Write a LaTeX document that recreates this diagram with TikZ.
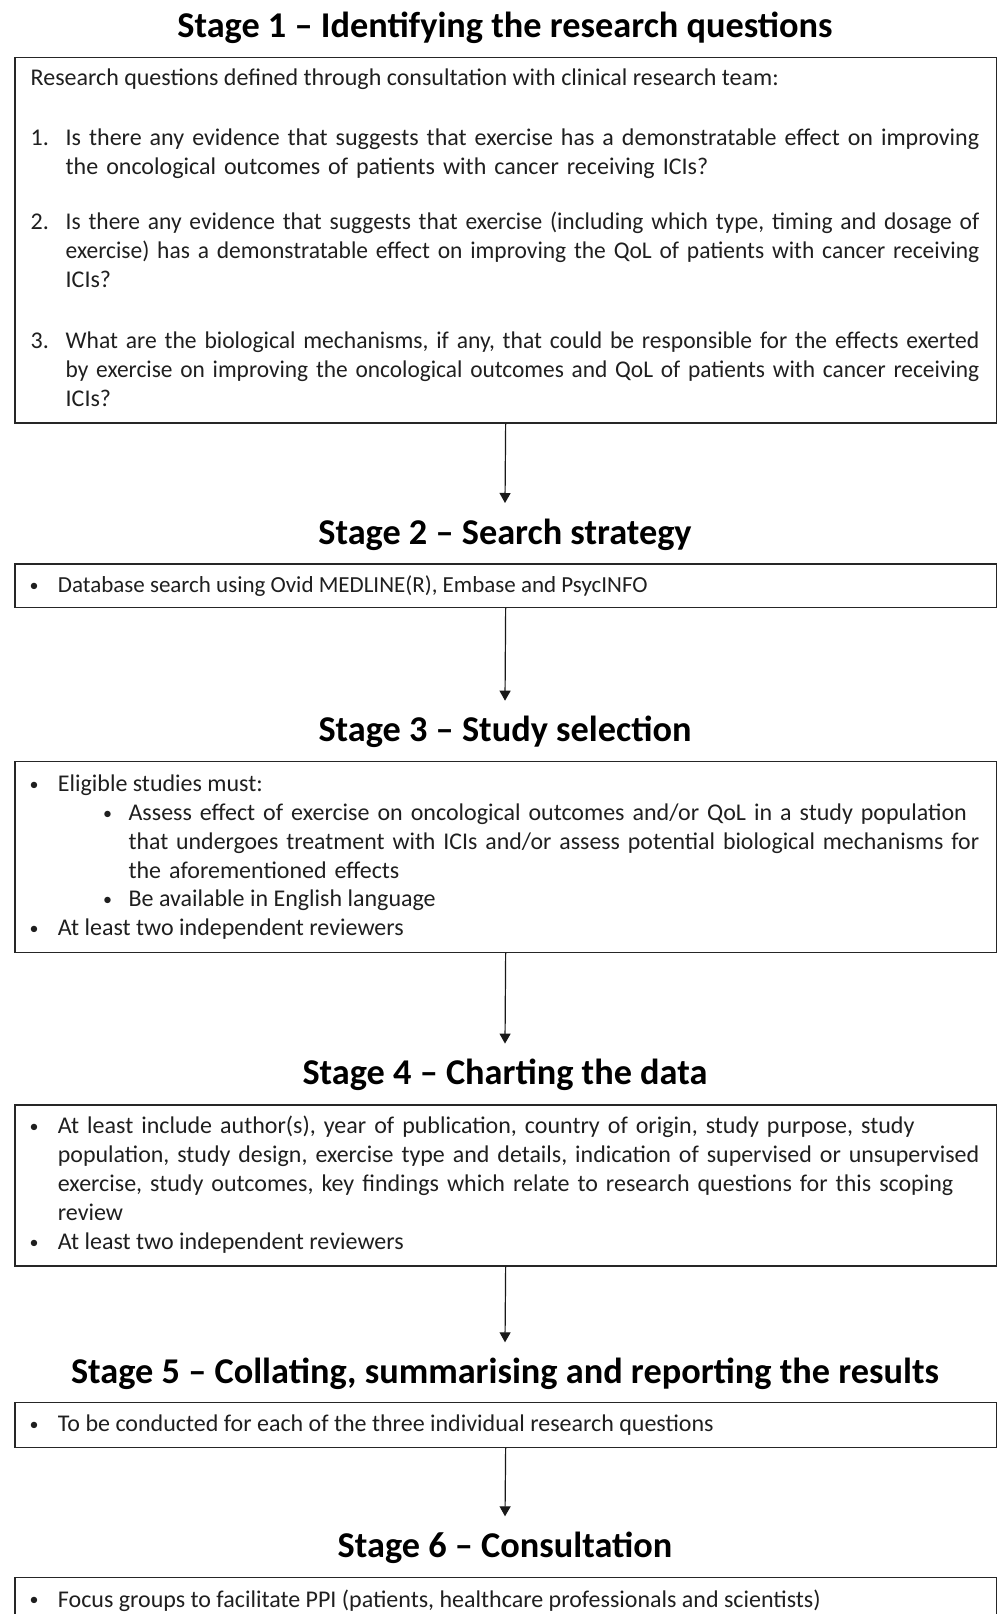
\documentclass[tikz,border=0pt]{standalone}
\usepackage{fontspec}
\usepackage{graphicx}
\setmainfont{Carlito}
\usetikzlibrary{arrows.meta}
\newsavebox{\jlinebox}
\newcommand{\jline}[1]{\sbox{\jlinebox}{#1}\ifdim\wd\jlinebox>\linewidth\resizebox{\linewidth}{\ht\jlinebox}{\usebox{\jlinebox}}\else\makebox[\linewidth][s]{#1}\fi}
\newcommand{\bul}{\raisebox{1.2pt}{\fontsize{18}{18}\selectfont •}}
\begin{document}
\begin{tikzpicture}[x=1pt,y=-1pt,
  boxframe/.style={draw=black!85, line width=1.5pt, inner sep=0pt, anchor=north west, minimum width=981.2pt},
  stagetitle/.style={font=\fontsize{36.3}{42}\bfseries\selectfont, inner sep=0pt, anchor=base, text height=23pt, text depth=0pt, outer ysep=18pt},
  body/.style={font=\fontsize{24}{28.8}\selectfont, inner sep=0pt, anchor=base west, text=black!88},
  bodyb/.style={body, font=\fontsize{24}{29}\selectfont},
  flow/.style={line width=1.2pt, draw=black!90, -{Triangle[width=11pt,length=10pt]}}
]
\useasboundingbox (0,0) rectangle (997,1614);

% ---------- Stage 1 ----------
\node[stagetitle] (t1) at (505,37.3) {Stage 1 -- Identifying the research questions};
\node[boxframe, minimum height=365.5pt] (b1) at (14.3,56.7) {};
\node[body] (b1a) at (30.5,85.6) {Research questions defined through consultation with clinical research team:};
\node[body] (n1) at (30.5,145.2) {1.};
\node[body, text width=913.5pt, align=left] (q1) at (65.5,145.2)
  {\jline{Is there any evidence that suggests that exercise has a demonstratable effect on improving}\\
   the oncological outcomes of patients with cancer receiving ICIs?};
\node[body] (n2) at (30.5,229.8) {2.};
\node[body, text width=913.5pt, align=left] (q2) at (65.5,229.8)
  {\jline{Is there any evidence that suggests that exercise (including which type, timing and dosage of}\\
   \jline{exercise) has a demonstratable effect on improving the QoL of patients with cancer receiving}\\
   ICIs?};
\node[body] (n3) at (30.5,348.8) {3.};
\node[body, text width=913.5pt, align=left] (q3) at (65.5,348.8)
  {\jline{What are the biological mechanisms, if any, that could be responsible for the effects exerted}\\
   \jline{by exercise on improving the oncological outcomes and QoL of patients with cancer receiving}\\
   ICIs?};

% ---------- Stage 2 ----------
\node[stagetitle] (t2) at (505,544) {Stage 2 -- Search strategy};
\node[boxframe, minimum height=43.4pt] (b2) at (14.3,563.3) {};
\node[body] (p2) at (29.5,592.8) {\bul};
\node[body, font=\fontsize{23}{28}\selectfont] (b2a) at (57.7,592.8) {Database search using Ovid MEDLINE(R), Embase and PsycINFO};

% ---------- Stage 3 ----------
\node[stagetitle] (t3) at (505,741.7) {Stage 3 -- Study selection};
\node[boxframe, minimum height=191pt] (b3) at (14.3,760.7) {};
\node[body] (p3a) at (29.5,791.6) {\bul};
\node[body] (b3a) at (57.7,791.6) {Eligible studies must:};
\node[body] (p3b) at (103,820.4) {\bul};
\node[body, text width=850.6pt, align=left] (b3b) at (128.4,820.4)
  {\jline{Assess effect of exercise on oncological outcomes and/or QoL in a study population}\\
   \jline{that undergoes treatment with ICIs and/or assess potential biological mechanisms for}\\
   the aforementioned effects};
\node[body] (p3c) at (103,906.8) {\bul};
\node[body] (b3c) at (128.4,906.8) {Be available in English language};
\node[body] (p3d) at (29.5,935.6) {\bul};
\node[body] (b3d) at (57.7,935.6) {At least two independent reviewers};

% ---------- Stage 4 ----------
\node[stagetitle] (t4) at (505,1084.6) {Stage 4 -- Charting the data};
\node[boxframe, minimum height=161pt] (b4) at (14.3,1104) {};
\node[bodyb] (p4a) at (29.5,1133.3) {\bul};
\node[bodyb, text width=921.3pt, align=left] (b4a) at (57.7,1133.3)
  {\jline{At least include author(s), year of publication, country of origin, study purpose, study}\\
   \jline{population, study design, exercise type and details, indication of supervised or unsupervised}\\
   \jline{exercise, study outcomes, key findings which relate to research questions for this scoping}\\
   review};
\node[bodyb] (p4b) at (29.5,1249.3) {\bul};
\node[bodyb] (b4b) at (57.7,1249.3) {At least two independent reviewers};

% ---------- Stage 5 ----------
\node[stagetitle] (t5) at (505,1383.3) {Stage 5 -- Collating, summarising and reporting the results};
\node[boxframe, minimum height=45pt] (b5) at (14.3,1401.7) {};
\node[body] (p5) at (29.5,1431.5) {\bul};
\node[body] (b5a) at (57.7,1431.5) {To be conducted for each of the three individual research questions};

% ---------- Stage 6 ----------
\node[stagetitle] (t6) at (505,1557.3) {Stage 6 -- Consultation};
\node[boxframe, minimum height=60pt] (b6) at (14.3,1576.7) {};
\node[body] (p6) at (29.5,1607) {\bul};
\node[body] (b6a) at (57.7,1607) {Focus groups to facilitate PPI (patients, healthcare professionals and scientists)};

% ---------- connectors ----------
\draw[flow] (b1.south) -- (t2.north);
\draw[flow] (b2.south) -- (t3.north);
\draw[flow] (b3.south) -- (t4.north);
\draw[flow] (b4.south) -- (t5.north);
\draw[flow] (b5.south) -- (t6.north);
\end{tikzpicture}
\end{document}
